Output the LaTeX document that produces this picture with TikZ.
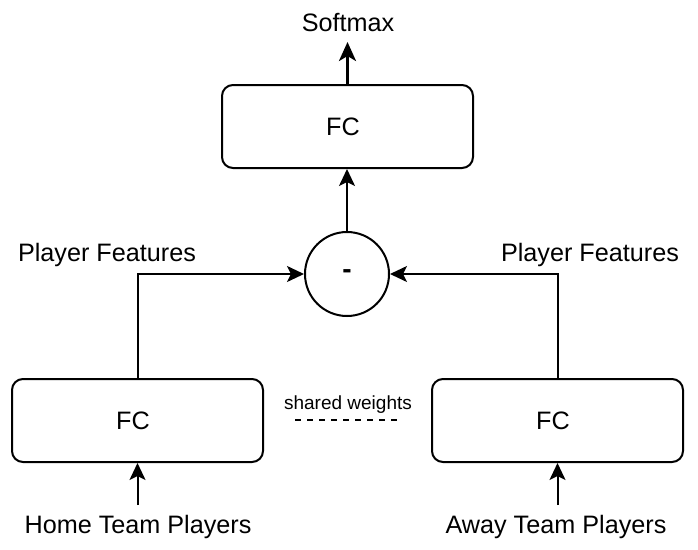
\documentclass[tikz,border=0pt]{standalone}
\usepackage{fontspec}
\setmainfont{Liberation Sans}
\usetikzlibrary{arrows.meta}
\newcommand{\fctext}{\raisebox{-2pt}{FC}\hspace*{9pt}}
\begin{document}
\begin{tikzpicture}[x=1pt,y=-1pt,
  big/.style={font=\fontsize{25.2}{29}\selectfont},
  box/.style={draw, line width=2pt, rounded corners=11pt, minimum width=251pt, minimum height=83pt, inner sep=0pt, big},
  lbl/.style={inner sep=0pt, big},
  conn/.style={line width=2pt, -{Stealth[length=17pt,width=16pt,inset=4pt]}},
  thickconn/.style={line width=3pt, -{Stealth[length=19pt,width=17pt,inset=5pt]}}]
\useasboundingbox (0,0) rectangle (698,549);
\node[box] (top) at (347.5,126.5) {\fctext};
\node[box] (left) at (137.5,420.5) {\fctext};
\node[box] (right) at (557.5,420.5) {\fctext};
\node[circle, draw, line width=2pt, minimum size=84pt, inner sep=0pt, font=\fontsize{28}{32}\selectfont\bfseries] (diff) at (347,274) {\raisebox{-4pt}{-}};
\node[lbl] (softmax) at (348,23) {Softmax};
\node[lbl] (pfl) at (107,255) {Player Features};
\node[lbl] (pfr) at (590,255) {Player Features};
\node[lbl] (home) at (138,527) {Home Team Players};
\node[lbl] (away) at (556,527) {Away Team Players};
\node[inner sep=0pt, font=\fontsize{19}{22}\selectfont] (sw) at (348,405) {shared weights};
\coordinate (smtip) at (347.5,42);
\coordinate (hin) at (137.5,505);
\coordinate (ain) at (557.5,505);
\coordinate (sw1) at (295,420);
\coordinate (sw2) at (401,420);
\draw[thickconn] (top.north) -- (smtip);
\draw[conn] (diff.north) -- (diff.north |- top.south);
\draw[conn] (left.north) |- (diff.west);
\draw[conn] (right.north) |- (diff.east);
\draw[conn] (hin) -- (left.south);
\draw[conn] (ain) -- (right.south);
\draw[line width=2pt, dash pattern=on 6pt off 6pt] (sw1) -- (sw2);
\end{tikzpicture}
\end{document}
